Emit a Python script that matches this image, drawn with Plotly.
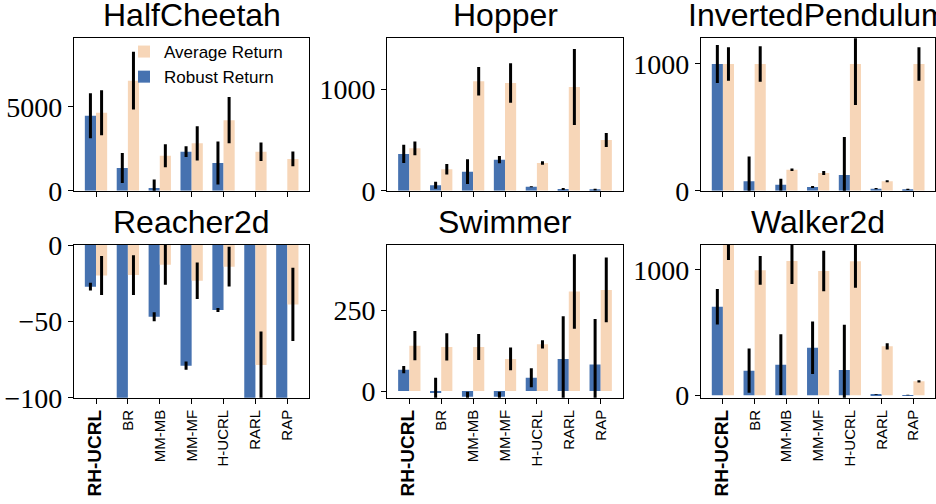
import plotly.graph_objects as go

categories = ["RH-UCRL", "BR", "MM-MB", "MM-MF", "H-UCRL", "RARL", "RAP"]
tick_labels = ["<b><span style='font-size:19px'>RH-UCRL</span></b>", "BR", "MM-MB", "MM-MF", "H-UCRL", "RARL", "RAP"]

env_names = ["HalfCheetah", "Hopper", "InvertedPendulum", "Reacher2d", "Swimmer", "Walker2d"]

halfcheetah_robust = [4460, 1350, 160, 2320, 1650, 0, 0]
halfcheetah_robust_err = [1340, 890, 500, 320, 1280, 0, 0]
halfcheetah_avg = [4640, 6550, 2080, 2820, 4200, 2320, 1890]
halfcheetah_avg_err = [1340, 1720, 680, 1020, 1370, 550, 440]

hopper_robust = [362, 53, 187, 306, 40, 17, 10]
hopper_robust_err = [90, 35, 122, 35, 5, 10, 8]
hopper_avg = [418, 211, 1079, 1062, 273, 1023, 500]
hopper_avg_err = [68, 52, 140, 194, 18, 375, 70]

invpend_robust = [1000, 74, 47, 29, 124, 16, 10]
invpend_robust_err = [150, 195, 48, 8, 300, 5, 5]
invpend_avg = [1000, 1000, 166, 140, 1000, 74, 1000]
invpend_avg_err = [132, 140, 10, 16, 324, 8, 132]

reacher_robust = [-27.3, -130, -47, -79, -42.6, -130, -130]
reacher_robust_err = [2.5, 5, 3, 2.7, 1.3, 5, 5]
reacher_avg = [-20, -19.7, -13, -23.4, -14.2, -78.6, -38.9]
reacher_avg_err = [12.8, 13, 13, 12, 13, 22, 24]

swimmer_robust = [66, -4, -18, -18, 41, 99, 82]
swimmer_robust_err = [11, 45, 16, 16, 29, 132, 140]
swimmer_avg = [140, 136, 136, 99, 144, 307, 312]
swimmer_avg_err = [45, 42, 40, 35, 13, 115, 100]

walker_robust = [707, 197, 245, 380, 202, 5, 2]
walker_robust_err = [141, 177, 243, 210, 362, 3, 2]
walker_avg = [1280, 997, 1072, 992, 1069, 391, 112]
walker_avg_err = [200, 114, 184, 161, 210, 25, 9]

y_ranges = [[0, 9070], [0, 1503], [0, 1202], [-100, 0], [-20.6, 450.6], [-18.6, 1199]]
y_ticks = [[0, 5000], [0, 1000], [0, 1000], [-100, -50, 0], [0, 250], [0, 1000]]

series = [
    (halfcheetah_robust, halfcheetah_robust_err, halfcheetah_avg, halfcheetah_avg_err),
    (hopper_robust, hopper_robust_err, hopper_avg, hopper_avg_err),
    (invpend_robust, invpend_robust_err, invpend_avg, invpend_avg_err),
    (reacher_robust, reacher_robust_err, reacher_avg, reacher_avg_err),
    (swimmer_robust, swimmer_robust_err, swimmer_avg, swimmer_avg_err),
    (walker_robust, walker_robust_err, walker_avg, walker_avg_err),
]

W, H = 936, 504
col_px = [(74, 309.3), (387.3, 622.7), (701, 935.3)]
row_px = [(38.3, 190.7), (245, 397.7)]

BLUE = "#4672B0"
ORANGE = "#F7D6B8"

fig = go.Figure()
layout = dict(
    width=W, height=H,
    margin=dict(l=0, r=0, t=0, b=0, autoexpand=False),
    paper_bgcolor="white", plot_bgcolor="white",
    barmode="group", bargap=0.3, bargroupgap=0,
    showlegend=True,
    legend=dict(x=124 / W, y=1 - 34 / H, xanchor="left", yanchor="top",
                bgcolor="rgba(0,0,0,0)", traceorder="reversed",
                font=dict(family="Liberation Sans", size=17, color="black"),
                itemwidth=30, tracegroupgap=0),
    annotations=[],
)

for i, (rob, rob_e, avg, avg_e) in enumerate(series):
    r, c = divmod(i, 3)
    idx = i + 1
    xa = "x" if idx == 1 else f"x{idx}"
    ya = "y" if idx == 1 else f"y{idx}"
    fig.add_trace(go.Bar(
        x=categories, y=rob, name="Robust Return", marker_color=BLUE,
        marker_line_width=0, xaxis=xa, yaxis=ya, showlegend=(i == 0),
        error_y=dict(type="data", array=rob_e, color="black", thickness=3, width=0),
    ))
    fig.add_trace(go.Bar(
        x=categories, y=avg, name="Average Return", marker_color=ORANGE,
        marker_line_width=0, xaxis=xa, yaxis=ya, showlegend=(i == 0),
        error_y=dict(type="data", array=avg_e, color="black", thickness=3, width=0),
    ))
    x0, x1 = col_px[c]
    y0, y1 = row_px[r]
    xkey = "xaxis" if idx == 1 else f"xaxis{idx}"
    ykey = "yaxis" if idx == 1 else f"yaxis{idx}"
    layout[xkey] = dict(
        domain=[x0 / W, x1 / W], anchor=ya, range=[-0.69, 6.69],
        type="category", automargin=False,
        showline=True, linecolor="black", linewidth=1.3, mirror=True,
        ticks="outside", ticklen=5, tickwidth=1.3, tickcolor="black",
        tickvals=categories, ticktext=tick_labels,
        showticklabels=(r == 1), tickangle=-90,
        tickfont=dict(family="Liberation Sans", size=15, color="black"),
        showgrid=False, zeroline=False,
    )
    layout[ykey] = dict(
        domain=[1 - y1 / H, 1 - y0 / H], anchor=xa, range=y_ranges[i],
        automargin=False,
        showline=True, linecolor="black", linewidth=1.3, mirror=True,
        ticks="outside", ticklen=5, tickwidth=1.3, tickcolor="black",
        tickvals=y_ticks[i],
        tickfont=dict(family="Liberation Serif", size=28, color="black"),
        showgrid=False, zeroline=False,
    )
    title_bottom = [35.5, 242][r]
    layout["annotations"].append(dict(
        text=env_names[i], x=(x0 + x1) / 2 / W, y=1 - title_bottom / H,
        xref="paper", yref="paper", xanchor="center", yanchor="bottom",
        showarrow=False, font=dict(family="Liberation Sans", size=32, color="black"),
    ))

fig.update_layout(**layout)
fig.write_html("out.html")
